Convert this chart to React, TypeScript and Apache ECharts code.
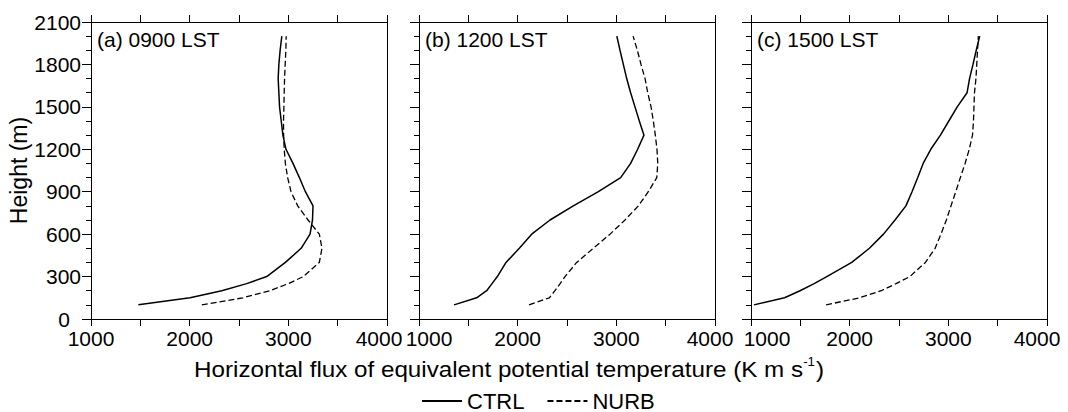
import React, { useEffect, useRef } from "react";
import * as echarts from "echarts";

// Heights (m) of the profiles
const heights = [100, 150, 200, 250, 300, 400, 500, 600, 700, 800, 900, 1000, 1100, 1200, 1300, 1400, 1500, 1600, 1700, 1800, 1900, 2000];

// (a) 0900 LST
const ctrlA = [1480, 2004, 2325, 2578, 2781, 2970, 3130, 3220, 3245, 3250, 3173, 3112, 3047, 2976, 2945, 2928, 2911, 2904, 2897, 2904, 2917, 2934];
const nurbA = [2123, 2540, 2814, 3000, 3152, 3314, 3341, 3314, 3200, 3095, 3027, 2993, 2970, 2958, 2952, 2951, 2955, 2958, 2962, 2968, 2975, 2978];

// (b) 1200 LST
const ctrlB = [1355, 1584, 1686, 1740, 1794, 1882, 2017, 2142, 2328, 2564, 2818, 3044, 3145, 3216, 3280, 3233, 3189, 3145, 3105, 3071, 3037, 3005];
const nurbB = [2115, 2321, 2378, 2430, 2480, 2598, 2767, 2936, 3088, 3223, 3324, 3410, 3420, 3412, 3395, 3375, 3352, 3318, 3291, 3250, 3213, 3170];

// (c) 1500 LST
const ctrlC = [1030, 1340, 1497, 1640, 1768, 2021, 2200, 2343, 2460, 2570, 2632, 2690, 2745, 2822, 2920, 3005, 3090, 3190, 3215, 3250, 3283, 3318];
const nurbC = [1761, 2100, 2320, 2470, 2610, 2768, 2866, 2925, 2980, 3027, 3075, 3122, 3170, 3212, 3245, 3255, 3260, 3265, 3280, 3288, 3296, 3304];

const panelLabels = ["(a) 0900 LST", "(b) 1200 LST", "(c) 1500 LST"];
const seriesNames = ["CTRL", "NURB"];
const xMin = 1000;
const xMax = 4000;
const yMin = 0;
const yMax = 2100;

const panels = [
  [ctrlA, nurbA],
  [ctrlB, nurbB],
  [ctrlC, nurbC],
];

const FONT = "'Liberation Sans', Arial, Helvetica, sans-serif";
const gridLefts = [91, 419, 751];
const GRID_TOP = 22;
const GRID_W = 296;
const GRID_H = 297;
const TICK_FS = 21;

// per-panel horizontal nudges of the end labels (to mimic the reference spacing)
const labelShift: Record<string, number>[] = [
  { 4000: -8 },
  { 1000: 10, 4000: -5 },
  { 1000: 16, 4000: -10 },
];

export default function App() {
  const ref = useRef<HTMLDivElement>(null);

  useEffect(() => {
    if (!ref.current) return;
    const chart = echarts.init(ref.current, null, { renderer: "svg" });

    const grid = gridLefts.map((l) => ({ left: l, top: GRID_TOP, width: GRID_W, height: GRID_H }));

    const xAxis: any[] = [];
    const yAxis: any[] = [];
    gridLefts.forEach((_, i) => {
      const shifts = labelShift[i];
      xAxis.push({
        type: "value",
        gridIndex: i,
        position: "bottom",
        min: xMin,
        max: xMax,
        interval: 500,
        axisLine: { show: true, onZero: false, lineStyle: { color: "#000", width: 1 } },
        axisTick: { show: true, length: 7, lineStyle: { color: "#000", width: 1 } },
        splitLine: { show: false },
        axisLabel: {
          show: true,
          margin: 9,
          color: "#000",
          fontSize: TICK_FS,
          fontFamily: FONT,
          formatter: (v: number) => {
            if (v % 1000 !== 0) return "";
            const s = shifts[v] || 0;
            if (s > 0) return `{r|${v}}`;
            if (s < 0) return `{l|${v}}`;
            return `${v}`;
          },
          rich: {
            r: { fontSize: TICK_FS, fontFamily: FONT, color: "#000", padding: [0, 0, 0, Math.abs(shifts[1000] || 0) * 2] },
            l: { fontSize: TICK_FS, fontFamily: FONT, color: "#000", padding: [0, Math.abs(shifts[4000] || 0) * 2, 0, 0] },
          },
        },
      });
      xAxis.push({
        type: "value",
        gridIndex: i,
        position: "top",
        min: xMin,
        max: xMax,
        interval: 500,
        axisLine: { show: true, onZero: false, lineStyle: { color: "#000", width: 1 } },
        axisTick: { show: true, length: 7, lineStyle: { color: "#000", width: 1 } },
        splitLine: { show: false },
        axisLabel: { show: false },
      });
      yAxis.push({
        type: "value",
        gridIndex: i,
        position: "left",
        min: yMin,
        max: yMax,
        interval: 300,
        name: i === 0 ? "Height (m)" : "",
        nameLocation: "middle",
        nameGap: 58,
        nameTextStyle: { fontSize: 23, color: "#000", fontFamily: FONT },
        axisLine: { show: true, onZero: false, lineStyle: { color: "#000", width: 1 } },
        axisTick: { show: true, length: 9, lineStyle: { color: "#000", width: 1 } },
        minorTick: { show: true, splitNumber: 3, length: 5, lineStyle: { color: "#000", width: 1 } },
        splitLine: { show: false },
        minorSplitLine: { show: false },
        axisLabel: {
          show: i === 0,
          margin: 10,
          color: "#000",
          fontSize: TICK_FS,
          fontFamily: FONT,
          formatter: (v: number) => (v === 0 ? "{z|0}" : String(v)),
          rich: {
            z: { fontSize: TICK_FS, fontFamily: FONT, color: "#000", padding: [0, 11, 0, 0] },
          },
        },
      });
      yAxis.push({
        type: "value",
        gridIndex: i,
        position: "right",
        min: yMin,
        max: yMax,
        interval: 300,
        axisLine: { show: true, onZero: false, lineStyle: { color: "#000", width: 1 } },
        axisTick: { show: false },
        splitLine: { show: false },
        axisLabel: { show: false },
      });
    });

    const series: any[] = [];
    panels.forEach((pair, i) => {
      pair.forEach((vals, k) => {
        series.push({
          type: "line",
          name: seriesNames[k],
          xAxisIndex: 2 * i,
          yAxisIndex: 2 * i,
          data: heights.map((h, j) => [vals[j], h]),
          symbol: "none",
          showSymbol: false,
          smooth: false,
          silent: true,
          lineStyle: {
            color: "#000",
            width: k === 0 ? 1.5 : 1.3,
            type: k === 0 ? "solid" : [6, 3],
          },
          itemStyle: { color: "#000" },
        });
      });
    });

    const graphic: any[] = panelLabels.map((t, i) => ({
      type: "text",
      x: gridLefts[i] + 6,
      y: 39,
      silent: true,
      style: {
        text: t,
        fontSize: 21,
        fontFamily: FONT,
        fill: "#000",
        align: "left",
        verticalAlign: "middle",
      },
    }));
    graphic.push({
      type: "text",
      x: 509,
      y: 369,
      scaleX: 1.1,
      silent: true,
      style: {
        text: "{a|Horizontal flux of equivalent potential temperature (K m s}{s|-1}{a|)}",
        fontFamily: FONT,
        fill: "#000",
        align: "center",
        verticalAlign: "middle",
        rich: {
          a: { fontSize: 22, fontFamily: FONT, fill: "#000", lineHeight: 24 },
          s: { fontSize: 12, fontFamily: FONT, fill: "#000", lineHeight: 24, padding: [0, 1, 14, 0] },
        },
      },
    });

    chart.setOption({
      animation: false,
      backgroundColor: "#fff",
      grid,
      xAxis,
      yAxis,
      series,
      graphic,
      legend: {
        data: seriesNames,
        left: 416,
        top: 385,
        itemWidth: 40,
        itemHeight: 14,
        itemGap: 22,
        selectedMode: false,
        itemStyle: { opacity: 0 },
        textStyle: { fontSize: 22, color: "#000", fontFamily: FONT, lineHeight: 22 },
      },
    });

    return () => chart.dispose();
  }, []);

  return (
    <div
      ref={ref}
      style={{ position: "fixed", left: 0, top: 0, width: 1068, height: 412, background: "#fff" }}
    />
  );
}
